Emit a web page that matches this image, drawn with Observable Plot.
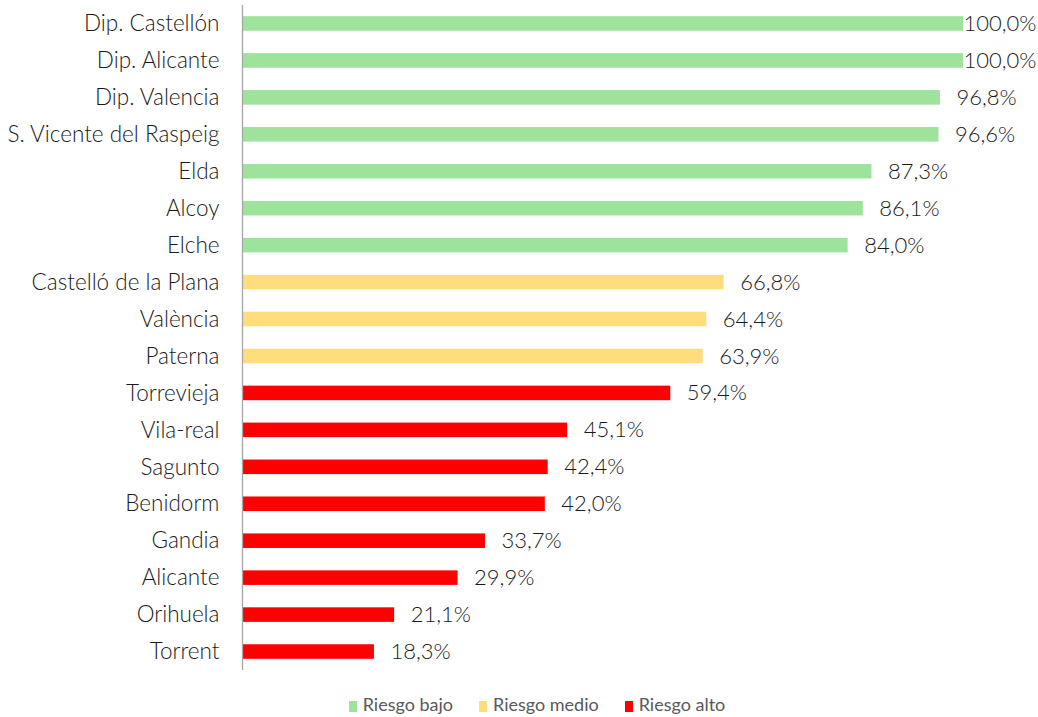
<!DOCTYPE html>
<html>
<head>
<meta charset="utf-8">
<script src="https://cdn.jsdelivr.net/npm/d3@7"></script>
<script src="https://cdn.jsdelivr.net/npm/@observablehq/plot@0.6"></script>
<style>
  html, body { margin: 0; padding: 0; background: #fff; }
  #chart { width: 1038px; }
  .legend { display: flex; justify-content: center; align-items: center; gap: 26px; font-family: Lato, "Open Sans", sans-serif; font-size: 18px; color: #595959; height: 24px; margin-left: 36px; width: 1002px; }
  .legend span.sw { display: inline-block; width: 8px; height: 11px; margin-right: 6px; vertical-align: -1px; }
</style>
</head>
<body>
<div id="chart"></div>
<script>
const entities = ["Dip. Castellón", "Dip. Alicante", "Dip. Valencia", "S. Vicente del Raspeig", "Elda", "Alcoy", "Elche", "Castelló de la Plana", "València", "Paterna", "Torrevieja", "Vila-real", "Sagunto", "Benidorm", "Gandia", "Alicante", "Orihuela", "Torrent"];
const values = [100.0, 100.0, 96.8, 96.6, 87.3, 86.1, 84.0, 66.8, 64.4, 63.9, 59.4, 45.1, 42.4, 42.0, 33.7, 29.9, 21.1, 18.3];
const risks = ["Riesgo bajo", "Riesgo bajo", "Riesgo bajo", "Riesgo bajo", "Riesgo bajo", "Riesgo bajo", "Riesgo bajo", "Riesgo medio", "Riesgo medio", "Riesgo medio", "Riesgo alto", "Riesgo alto", "Riesgo alto", "Riesgo alto", "Riesgo alto", "Riesgo alto", "Riesgo alto", "Riesgo alto"];
const riskLevels = ["Riesgo bajo", "Riesgo medio", "Riesgo alto"];
const riskColors = ["#9de39b", "#ffdc7c", "#ff0000"];

const data = entities.map((e, i) => ({entity: e, value: values[i], risk: risks[i]}));
const fmt = v => v.toFixed(1).replace(".", ",") + "%";

const plot = Plot.plot({
  width: 1038,
  height: 692,
  marginLeft: 242,
  marginRight: 75,
  marginTop: 5,
  marginBottom: 22,
  style: {fontFamily: "Lato, 'Open Sans', sans-serif", background: "#fff", fontWeight: 300},
  x: {domain: [0, 100], axis: null},
  y: {domain: entities, padding: 0, round: false, label: null, axis: null},
  color: {domain: riskLevels, range: riskColors},
  marks: [
    Plot.barX(data, {y: "entity", x: "value", fill: "risk", insetTop: 11.2, insetBottom: 11.2}),
    Plot.ruleX([0], {stroke: "#a6a6a6", strokeWidth: 1.3}),
    Plot.axisY({tickSize: 0, tickPadding: 23, fontSize: 22.5, fill: "#1a1a1a", label: null}),
    Plot.text(data.filter(d => d.value < 100), {y: "entity", x: "value", text: d => fmt(d.value), textAnchor: "start", dx: 16, fontSize: 22, fill: "#1a1a1a"}),
    Plot.text(data.filter(d => d.value >= 100), {y: "entity", x: "value", text: d => fmt(d.value), textAnchor: "start", dx: 0, fontSize: 22, fill: "#1a1a1a"})
  ]
});
document.getElementById("chart").appendChild(plot);

const legend = document.createElement("div");
legend.className = "legend";
riskLevels.forEach((r, i) => {
  const item = document.createElement("div");
  item.innerHTML = `<span class="sw" style="background:${riskColors[i]}"></span>${r}`;
  legend.appendChild(item);
});
document.body.appendChild(legend);
</script>
</body>
</html>
